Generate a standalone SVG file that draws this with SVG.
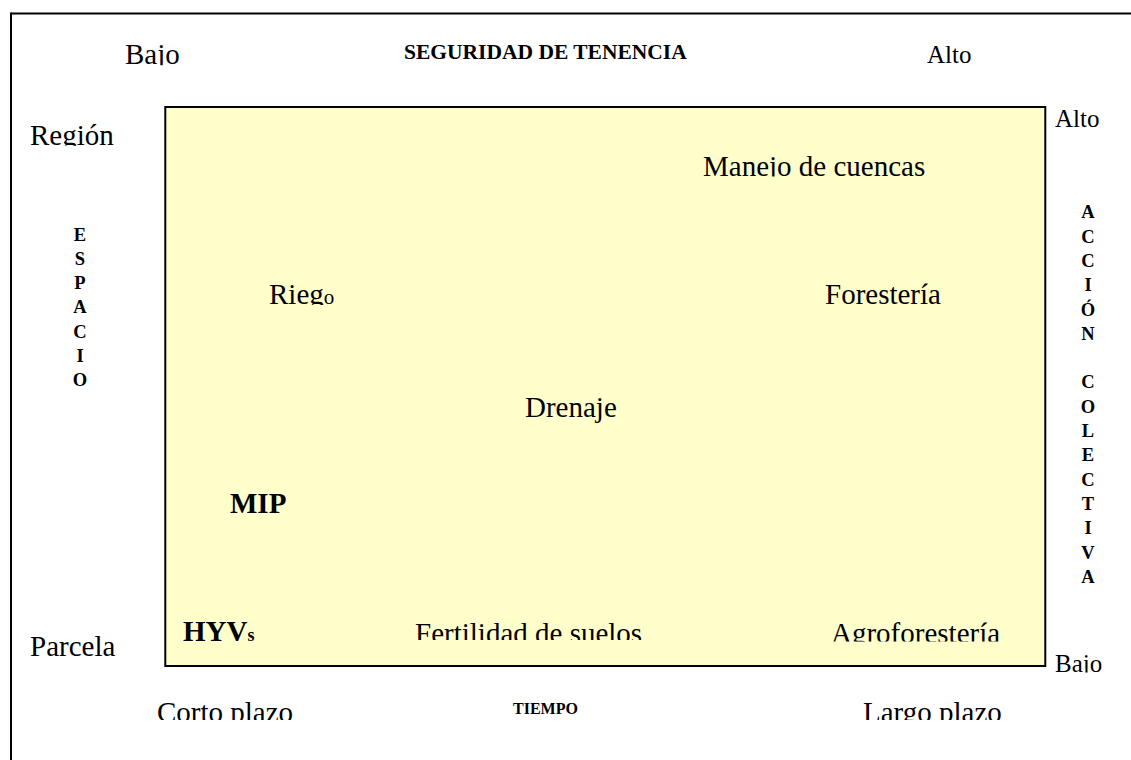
<svg xmlns="http://www.w3.org/2000/svg" width="1131" height="760" viewBox="0 0 1131 760">
  <style>
    .t { font-family: "Liberation Serif", "Times New Roman", serif; fill: #000; }
    .lg { font-size: 29px; }
    .md { font-size: 25px; }
    .b { font-weight: bold; }
    .v { font-family: "Liberation Serif", "Times New Roman", serif; font-weight: bold; font-size: 18.5px; text-anchor: middle; }
  </style>
  <defs>
    <clipPath id="cBajo1"><rect x="100" y="30" width="120" height="35.2"/></clipPath>
    <clipPath id="cRegion"><rect x="20" y="110" width="130" height="35.8"/></clipPath>
    <clipPath id="cManejo"><rect x="690" y="140" width="260" height="36.6"/></clipPath>
    <clipPath id="cRiego"><rect x="250" y="270" width="120" height="35"/></clipPath>
    <clipPath id="cHYV"><rect x="170" y="610" width="110" height="31.5"/></clipPath>
    <clipPath id="cFert"><rect x="400" y="610" width="260" height="30"/></clipPath>
    <clipPath id="cAgro"><rect x="820" y="610" width="200" height="31.5"/></clipPath>
    <clipPath id="cBajo2"><rect x="1050" y="645" width="80" height="27.4"/></clipPath>
    <clipPath id="cCorto"><rect x="140" y="690" width="180" height="30"/></clipPath>
    <clipPath id="cLargo"><rect x="850" y="690" width="180" height="30"/></clipPath>
  </defs>

  <g id="frame">
    <line x1="11" y1="13.5" x2="1131" y2="13.5" stroke="#000" stroke-width="2"/>
    <line x1="11" y1="12.5" x2="11" y2="760" stroke="#000" stroke-width="2"/>
  </g>

  <g id="matrix">
    <rect x="165.3" y="107" width="880" height="559" fill="#FFFFCC" stroke="#000" stroke-width="2"/>
  </g>

  <g id="connectors"></g>

  <g id="label-bajo-top"><text class="t lg" x="125" y="64" clip-path="url(#cBajo1)">Bajo</text></g>
  <g id="label-seguridad"><text class="t b" x="404" y="59" font-size="21.5">SEGURIDAD DE TENENCIA</text></g>
  <g id="label-alto-top"><text class="t md" x="927" y="63">Alto</text></g>

  <g id="label-region"><text class="t lg" x="30" y="145" clip-path="url(#cRegion)">Región</text></g>
  <g id="label-parcela"><text class="t lg" x="30" y="656">Parcela</text></g>
  <g id="label-espacio">
    <text class="v" x="80" y="240.7">E</text>
    <text class="v" x="80" y="264.9">S</text>
    <text class="v" x="80" y="289.1">P</text>
    <text class="v" x="80" y="313.3">A</text>
    <text class="v" x="80" y="337.5">C</text>
    <text class="v" x="80" y="361.7">I</text>
    <text class="v" x="80" y="385.9">O</text>
  </g>

  <g id="label-alto-right"><text class="t md" x="1055" y="127">Alto</text></g>
  <g id="label-bajo-right"><text class="t md" x="1055" y="671.5" clip-path="url(#cBajo2)">Bajo</text></g>
  <g id="label-accion">
    <text class="v" x="1088" y="218.3">A</text>
    <text class="v" x="1088" y="242.6">C</text>
    <text class="v" x="1088" y="266.9">C</text>
    <text class="v" x="1088" y="291.2">I</text>
    <text class="v" x="1088" y="315.5">Ó</text>
    <text class="v" x="1088" y="339.8">N</text>
    <text class="v" x="1088" y="388.4">C</text>
    <text class="v" x="1088" y="412.7">O</text>
    <text class="v" x="1088" y="437">L</text>
    <text class="v" x="1088" y="461.3">E</text>
    <text class="v" x="1088" y="485.6">C</text>
    <text class="v" x="1088" y="509.9">T</text>
    <text class="v" x="1088" y="534.2">I</text>
    <text class="v" x="1088" y="558.5">V</text>
    <text class="v" x="1088" y="582.8">A</text>
  </g>

  <g id="node-manejo"><text class="t lg" x="703" y="176" clip-path="url(#cManejo)">Manejo de cuencas</text></g>
  <g id="node-riego"><text class="t lg" x="269" y="304" clip-path="url(#cRiego)">Rieg<tspan font-size="21">o</tspan></text></g>
  <g id="node-forestaria"><text class="t lg" x="825" y="304">Forestería</text></g>
  <g id="node-drenaje"><text class="t lg" x="525" y="417">Drenaje</text></g>
  <g id="node-mip"><text class="t lg b" x="230" y="512.7">MIP</text></g>
  <g id="node-hyvs"><text class="t lg b" x="183" y="641" clip-path="url(#cHYV)">HYV<tspan font-size="18">s</tspan></text></g>
  <g id="node-fertilidad"><text class="t lg" x="415" y="642.5" clip-path="url(#cFert)">Fertilidad de suelos</text></g>
  <g id="node-agroforesteria"><text class="t lg" x="831" y="643" clip-path="url(#cAgro)">Agroforestería</text></g>

  <g id="label-corto"><text class="t lg" x="157" y="721.5" clip-path="url(#cCorto)">Corto plazo</text></g>
  <g id="label-tiempo"><text class="t b" x="513" y="714" font-size="16">TIEMPO</text></g>
  <g id="label-largo"><text class="t lg" x="863" y="722" clip-path="url(#cLargo)">Largo plazo</text></g>
</svg>
